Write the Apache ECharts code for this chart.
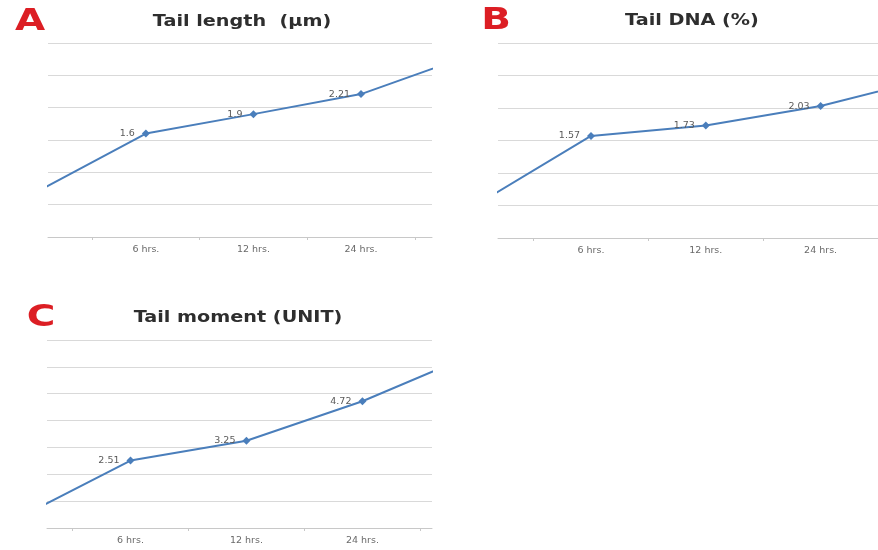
<!DOCTYPE html>
<html><head><meta charset="utf-8">
<script src="https://cdn.jsdelivr.net/npm/echarts@6/dist/echarts.min.js"></script>
<style>html,body{margin:0;padding:0;background:#fff}#c{width:878px;height:550px}</style>
</head><body><div id="c"></div>
<script>
// Category names (first and last categories are cropped out of view in the reference)
var categories = ['', '6 hrs.', '12 hrs.', '24 hrs.', ''];
// Values (first/last estimated from visible edge segments)
var tailLength = [0.71, 1.6, 1.9, 2.21, 2.8];
var tailDNA = [0.51, 1.57, 1.73, 2.03, 2.48];
var tailMoment = [0.3, 2.51, 3.25, 4.72, 6.55];
var panelTitles = ['Tail length  (\u00b5m)', 'Tail DNA (%)', 'Tail moment (UNIT)'];
var panelLetters = ['A', 'B', 'C'];

var chart = echarts.init(document.getElementById('c'));
var lineColor = '#4A7EBB';
var gridColor = '#D9D9D9';
var LBLFONT = '"DejaVu Sans", sans-serif';

function seriesData(vals) {
  return vals.map(function (v, i) {
    var visible = i >= 1 && i <= 3;
    return { value: [i, v], label: { show: visible } };
  });
}
function xAxis(idx, min, max) {
  return {
    type: 'value', gridIndex: idx, min: min, max: max,
    splitLine: { show: false },
    axisLine: { show: true, onZero: false, lineStyle: { color: '#C8C8C8', width: 1 } },
    axisTick: { show: true, customValues: [0.5, 1.5, 2.5, 3.5], length: 3, lineStyle: { color: '#C8C8C8' } },
    axisLabel: {
      customValues: [1, 2, 3], margin: 8, fontSize: 9.5, color: '#6a6a6a', fontFamily: LBLFONT,
      formatter: function (v) { return categories[Math.round(v)]; }
    }
  };
}
function yAxis(idx, max, interval) {
  return {
    type: 'value', gridIndex: idx, min: 0, max: max, interval: interval,
    axisLabel: { show: false }, axisLine: { show: false }, axisTick: { show: false },
    splitLine: { show: true, lineStyle: { color: gridColor, width: 1 } }
  };
}
function series(idx, vals) {
  return {
    type: 'line', xAxisIndex: idx, yAxisIndex: idx, data: seriesData(vals),
    clip: true, symbol: 'diamond', symbolSize: 8, showSymbol: true,
    lineStyle: { color: lineColor, width: 2 },
    itemStyle: { color: lineColor },
    label: { position: 'left', distance: 7, fontSize: 9.5, color: '#5a5a5a', fontFamily: LBLFONT },
    animation: false
  };
}
function letter(txt, x, y) {
  return {
    type: 'text', x: x, y: y, scaleX: 1.3, silent: true,
    style: { text: txt, fill: '#DC1E24', fontSize: 30, fontWeight: 'bold', fontFamily: 'DejaVu Sans', textAlign: 'center', textVerticalAlign: 'middle' }
  };
}
function heading(txt, x, y) {
  return {
    type: 'text', x: x, y: y, scaleX: 1.2, silent: true,
    style: { text: txt, fill: '#2e2e2e', fontSize: 16, fontWeight: 'bold', fontFamily: 'DejaVu Sans', textAlign: 'center', textVerticalAlign: 'middle' }
  };
}

chart.setOption({
  backgroundColor: '#fff',
  animation: false,
  graphic: [
    letter(panelLetters[0], 30, 22),
    letter(panelLetters[1], 496, 21),
    letter(panelLetters[2], 41, 318),
    heading(panelTitles[0], 242, 22),
    heading(panelTitles[1], 692, 21),
    heading(panelTitles[2], 238, 318)
  ],
  grid: [
    { left: 48, right: 446, top: 43, bottom: 313 },
    { left: 498, right: 0, top: 43, bottom: 312 },
    { left: 47, right: 446, top: 340, bottom: 22 }
  ],
  xAxis: [xAxis(0, 0.09, 3.66), xAxis(1, 0.19, 3.5), xAxis(2, 0.28, 3.6)],
  yAxis: [yAxis(0, 3, 0.5), yAxis(1, 3, 0.5), yAxis(2, 7, 1)],
  series: [series(0, tailLength), series(1, tailDNA), series(2, tailMoment)]
});
</script></body></html>
